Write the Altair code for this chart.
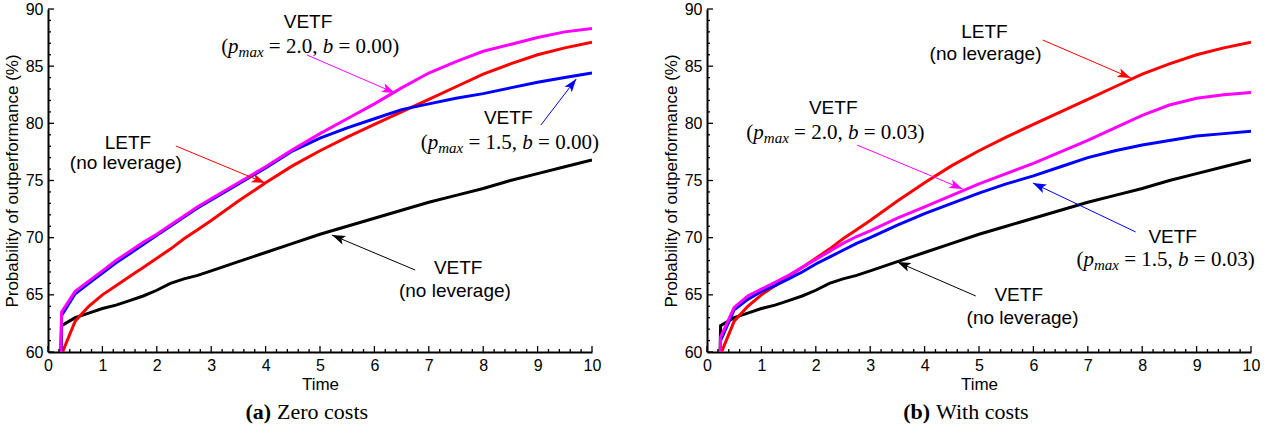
import math
import altair as alt
import pandas as pd

# ---------------- data ----------------
TIME = [0, 0.25, 0.5, 0.75, 1.0, 1.25, 1.5, 1.75, 2.0, 2.25, 2.5, 2.75, 3.0,
        3.5, 4.0, 4.5, 5.0, 5.5, 6.0, 6.5, 7.0, 7.5, 8.0, 8.5, 9.0, 9.5, 10.0]

VETF_NO_LEV = [0, 62.3, 63.0, 63.4, 63.8, 64.1, 64.5, 64.9, 65.4, 66.0, 66.4, 66.7, 67.1,
               67.9, 68.7, 69.5, 70.3, 71.0, 71.7, 72.4, 73.1, 73.7, 74.3, 75.0, 75.6, 76.2, 76.8]
LETF_NO_LEV = [0, 59.8, 62.7, 64.0, 65.0, 65.8, 66.6, 67.4, 68.2, 69.0, 69.9, 70.7, 71.5,
               73.2, 74.8, 76.3, 77.6, 78.8, 79.9, 81.0, 82.1, 83.2, 84.3, 85.2, 86.0, 86.6, 87.1]
VETF_P20_B000 = [0, 63.5, 65.3, 66.2, 67.1, 68.0, 68.8, 69.6, 70.3, 71.1, 71.9, 72.7, 73.4,
                 74.8, 76.2, 77.7, 79.1, 80.4, 81.7, 83.1, 84.4, 85.4, 86.3, 86.9, 87.5, 88.0, 88.3]
VETF_P15_B000 = [0, 63.2, 65.1, 66.0, 66.9, 67.8, 68.6, 69.4, 70.2, 71.0, 71.8, 72.6, 73.3,
                 74.7, 76.1, 77.6, 78.7, 79.6, 80.4, 81.2, 81.7, 82.2, 82.6, 83.1, 83.6, 84.0, 84.4]
VETF_P20_B003 = [0, 61.3, 63.9, 64.9, 65.5, 66.1, 66.7, 67.4, 68.1, 68.8, 69.5, 70.1, 70.6,
                 71.7, 72.7, 73.7, 74.7, 75.6, 76.5, 77.5, 78.5, 79.6, 80.7, 81.6, 82.2, 82.5, 82.7]
VETF_P15_B003 = [0, 61.0, 63.7, 64.6, 65.3, 65.8, 66.4, 67.0, 67.7, 68.3, 68.9, 69.5, 70.0,
                 71.1, 72.1, 73.0, 73.9, 74.7, 75.4, 76.2, 77.0, 77.6, 78.1, 78.5, 78.9, 79.1, 79.3]

X_TICK_LABELS = [0, 1, 2, 3, 4, 5, 6, 7, 8, 9, 10]
X_MINOR_TICKS = [0.2, 0.4, 0.6, 0.8, 1.2, 1.4, 1.6, 1.8, 2.2, 2.4, 2.6, 2.8, 3.2, 3.4, 3.6, 3.8,
                 4.2, 4.4, 4.6, 4.8, 5.2, 5.4, 5.6, 5.8, 6.2, 6.4, 6.6, 6.8, 7.2, 7.4, 7.6, 7.8,
                 8.2, 8.4, 8.6, 8.8, 9.2, 9.4, 9.6, 9.8]
Y_TICK_LABELS = [60, 65, 70, 75, 80, 85, 90]
Y_MINOR_TICKS = [61, 62, 63, 64, 66, 67, 68, 69, 71, 72, 73, 74, 76, 77, 78, 79,
                 81, 82, 83, 84, 86, 87, 88, 89]

BLACK, RED, BLUE, MAGENTA = "#000000", "#ff0000", "#0000ff", "#ff00ff"

# annotations (data coordinates)
LEFT_SANS_LABELS = ["VETF", "LETF", "(no leverage)", "VETF", "VETF", "(no leverage)"]
LEFT_SANS_T = [4.78, 1.47, 1.43, 8.46, 7.54, 7.48]
LEFT_SANS_P = [88.86, 78.28, 76.53, 80.47, 67.35, 65.34]
LEFT_MATH_PMAX = ["2.0", "1.5"]
LEFT_MATH_B = ["0.00", "0.00"]
LEFT_MATH_T = [4.82, 8.49]
LEFT_MATH_P = [86.68, 78.28]
LEFT_ARROW_T0 = [4.76, 2.35, 9.06, 6.75]
LEFT_ARROW_P0 = [85.98, 78.02, 79.85, 67.17]
LEFT_ARROW_T1 = [6.38, 3.99, 9.71, 5.22]
LEFT_ARROW_P1 = [82.65, 74.78, 83.88, 70.23]
LEFT_ARROW_COLOR = [MAGENTA, RED, BLUE, BLACK]

RIGHT_SANS_LABELS = ["LETF", "(no leverage)", "VETF", "VETF", "VETF", "(no leverage)"]
RIGHT_SANS_T = [5.10, 5.12, 2.32, 8.56, 5.73, 5.80]
RIGHT_SANS_P = [88.0, 86.1, 81.34, 70.06, 64.95, 63.0]
RIGHT_MATH_PMAX = ["2.0", "1.5"]
RIGHT_MATH_B = ["0.03", "0.03"]
RIGHT_MATH_T = [2.36, 8.43]
RIGHT_MATH_P = [79.15, 68.05]
RIGHT_ARROW_T0 = [6.17, 2.76, 7.88, 4.94]
RIGHT_ARROW_P0 = [87.29, 78.1, 70.5, 64.9]
RIGHT_ARROW_T1 = [7.79, 4.70, 5.99, 3.50]
RIGHT_ARROW_P1 = [83.97, 74.26, 74.78, 67.87]
RIGHT_ARROW_COLOR = [RED, MAGENTA, BLUE, BLACK]

CAPTION_TAGS = ["(a)", "(b)"]
CAPTION_TEXTS = ["Zero costs", "With costs"]
CAPTION_TAG_T = [4.10, 4.10]     # right edge of the bold tag, in Time units
CAPTION_TEXT_T = [4.21, 4.21]    # left edge of the caption text

# ---------------- layout / style ----------------
W, H = 544, 343
XDOM, YDOM = [0, 10], [60, 90]
SANS = "Liberation Sans"
SERIF = "Liberation Serif"
ARROW_PATH = "M0,0L0.45,1.3L0,1.0L-0.45,1.3Z"
MATH_SIZE, SUB_SIZE = 21, 15
CAPTION_Y = 410

xs = alt.Scale(domain=XDOM, nice=False, zero=False)
ys = alt.Scale(domain=YDOM, nice=False, zero=False)

x_axis = alt.Axis(values=X_TICK_LABELS, title="Time", ticks=False, grid=False,
                  labelFlush=False, labelPadding=5, titlePadding=3,
                  labelFontSize=16, titleFontSize=17, labelFont=SANS, titleFont=SANS,
                  titleFontWeight="normal", labelColor="black", titleColor="black",
                  domainColor="black", domainWidth=2)
y_axis = alt.Axis(values=Y_TICK_LABELS, title="Probability of outperformance (%)",
                  ticks=False, grid=False, labelFlush=False, labelPadding=5,
                  titlePadding=4, labelFontSize=16, titleFontSize=17, labelFont=SANS,
                  titleFont=SANS, titleFontWeight="normal", labelColor="black",
                  titleColor="black", domainColor="black", domainWidth=2)


def X(field):
    return alt.X(field, scale=xs, axis=x_axis)


def Y(field):
    return alt.Y(field, scale=ys, axis=y_axis)


def math_layers(pmax, bval, tt, pp):
    """(p_max = .., b = ..) built from pieces; offsets from Times metrics."""
    df = pd.DataFrame({"t": tt, "p": pp,
                       "s1": ["(" for _ in tt], "s2": ["p" for _ in tt],
                       "s3": ["max" for _ in tt],
                       "s4": ["= " + v + "," for v in pmax], "s5": ["b" for _ in tt],
                       "s6": ["= " + v + ")" for v in bval]})
    em, sub = MATH_SIZE, SUB_SIZE
    w = {"s1": 0.333 * em, "s2": 0.5 * em, "s3": 1.666 * sub,
         "gap": 0.25 * em, "s4": 2.314 * em, "s5": 0.5 * em, "s6": 2.897 * em}
    total = (w["s1"] + w["s2"] + w["s3"] + w["gap"] + w["s4"] + w["gap"] + w["s5"]
             + w["gap"] + w["s6"])
    pos = {"s1": -total / 2}
    pos["s2"] = pos["s1"] + w["s1"]
    pos["s3"] = pos["s2"] + w["s2"]
    pos["s4"] = pos["s3"] + w["s3"] + w["gap"]
    pos["s5"] = pos["s4"] + w["s4"] + w["gap"]
    pos["s6"] = pos["s5"] + w["s5"] + w["gap"]
    out = []
    for key in ["s1", "s2", "s3", "s4", "s5", "s6"]:
        italic = key in ("s2", "s3", "s5")
        size = sub if key == "s3" else em
        dy = 5 if key == "s3" else 0
        out.append(alt.Chart(df).mark_text(
            font=SERIF, fontSize=size, fontStyle="italic" if italic else "normal",
            color="black", align="left", baseline="middle", dx=pos[key], dy=dy).encode(
            x=X("t:Q"), y=Y("p:Q"), text=f"{key}:N"))
    return out


def panel(series, sans, math_lbl, arrows, cap_idx):
    layers = []
    # curves
    for vals, color in series:
        df = pd.DataFrame({"t": TIME, "p": vals})
        layers.append(alt.Chart(df).mark_line(color=color, strokeWidth=3, clip=True).encode(
            x=X("t:Q"), y=Y("p:Q")))
    # tick marks pointing inward
    for vals, length in ((X_TICK_LABELS, 6), (X_MINOR_TICKS, 3)):
        layers.append(alt.Chart(pd.DataFrame({"t": vals})).mark_rule(
            color="black", strokeWidth=1.3).encode(
            x=X("t:Q"), y=alt.value(H), y2=alt.value(H - length)))
    for vals, length in ((Y_TICK_LABELS, 6), (Y_MINOR_TICKS, 3)):
        layers.append(alt.Chart(pd.DataFrame({"p": vals})).mark_rule(
            color="black", strokeWidth=1.3).encode(
            y=Y("p:Q"), x=alt.value(0), x2=alt.value(length)))
    # arrows
    t0, p0, t1, p1, cols = arrows
    adf = pd.DataFrame({"t0": t0, "p0": p0, "t1": t1, "p1": p1, "color": cols})
    sx, sy = W / (XDOM[1] - XDOM[0]), H / (YDOM[1] - YDOM[0])
    adf["angle"] = [
        (math.degrees(math.atan2((b - a) * sx, (d - c) * sy)) + 360) % 360
        for a, b, c, d in zip(adf.t0, adf.t1, adf.p0, adf.p1)]
    layers.append(alt.Chart(adf).mark_rule(strokeWidth=1).encode(
        x=X("t0:Q"), y=Y("p0:Q"), x2="t1:Q", y2="p1:Q",
        color=alt.Color("color:N", scale=None)))
    layers.append(alt.Chart(adf).mark_point(shape=ARROW_PATH, filled=True, size=420,
                                            opacity=1, strokeWidth=0).encode(
        x=X("t1:Q"), y=Y("p1:Q"),
        angle=alt.Angle("angle:Q", scale=None), color=alt.Color("color:N", scale=None)))
    # labels
    sl, st, sp = sans
    layers.append(alt.Chart(pd.DataFrame({"label": sl, "t": st, "p": sp})).mark_text(
        font=SANS, fontSize=19, color="black", align="center", baseline="middle").encode(
        x=X("t:Q"), y=Y("p:Q"), text="label:N"))
    layers.extend(math_layers(*math_lbl))
    # caption below the axis title
    cdf = pd.DataFrame({"tag": [CAPTION_TAGS[cap_idx]], "text": [CAPTION_TEXTS[cap_idx]],
                        "tt": [CAPTION_TAG_T[cap_idx]], "xt": [CAPTION_TEXT_T[cap_idx]]})
    layers.append(alt.Chart(cdf).mark_text(font=SERIF, fontSize=22, fontWeight="bold",
                                           align="right", baseline="alphabetic",
                                           color="black").encode(
        x=X("tt:Q"), y=alt.value(CAPTION_Y), text="tag:N"))
    layers.append(alt.Chart(cdf).mark_text(font=SERIF, fontSize=22, align="left",
                                           baseline="alphabetic", color="black").encode(
        x=X("xt:Q"), y=alt.value(CAPTION_Y), text="text:N"))
    return alt.layer(*layers).properties(width=W, height=H)


left = panel(
    [(VETF_NO_LEV, BLACK), (LETF_NO_LEV, RED), (VETF_P15_B000, BLUE), (VETF_P20_B000, MAGENTA)],
    (LEFT_SANS_LABELS, LEFT_SANS_T, LEFT_SANS_P),
    (LEFT_MATH_PMAX, LEFT_MATH_B, LEFT_MATH_T, LEFT_MATH_P),
    (LEFT_ARROW_T0, LEFT_ARROW_P0, LEFT_ARROW_T1, LEFT_ARROW_P1, LEFT_ARROW_COLOR), 0)
right = panel(
    [(VETF_NO_LEV, BLACK), (LETF_NO_LEV, RED), (VETF_P15_B003, BLUE), (VETF_P20_B003, MAGENTA)],
    (RIGHT_SANS_LABELS, RIGHT_SANS_T, RIGHT_SANS_P),
    (RIGHT_MATH_PMAX, RIGHT_MATH_B, RIGHT_MATH_T, RIGHT_MATH_P),
    (RIGHT_ARROW_T0, RIGHT_ARROW_P0, RIGHT_ARROW_T1, RIGHT_ARROW_P1, RIGHT_ARROW_COLOR), 1)

chart = alt.hconcat(left, right, spacing=61).properties(
    padding={"left": 3, "top": 1, "right": 5, "bottom": 2},
    background="white",
).configure_view(stroke=None)

chart.save("out.html", embed_options={"renderer": "svg", "actions": False})
